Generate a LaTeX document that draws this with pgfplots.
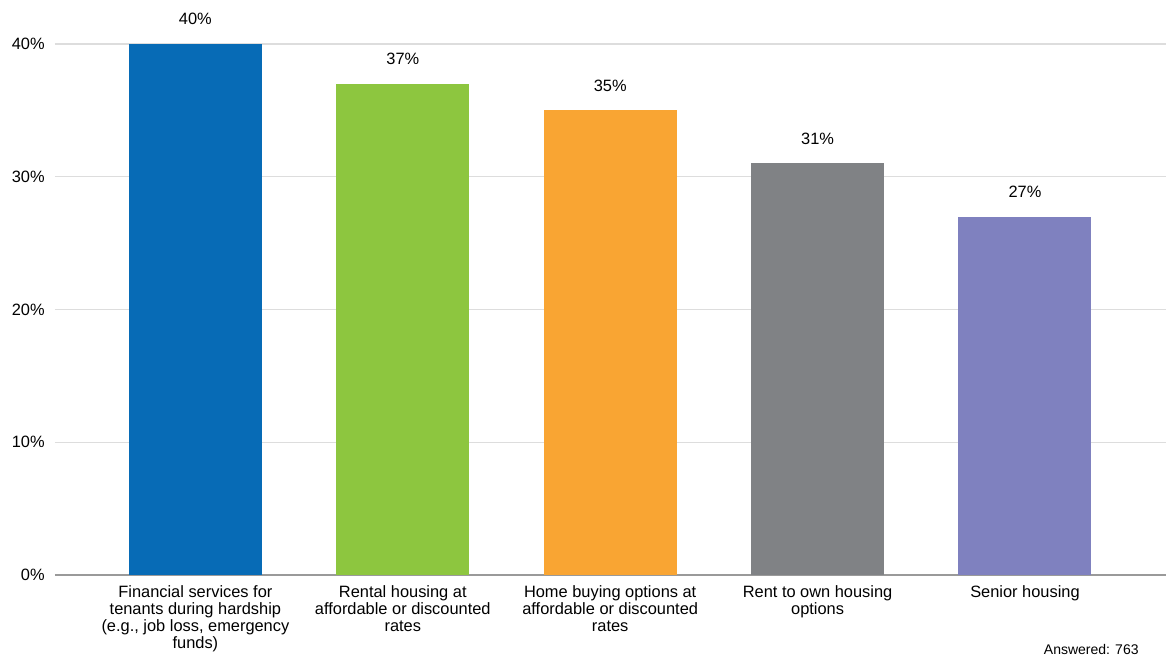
\documentclass[border=0pt]{standalone}
\usepackage{fontspec}
\setmainfont{Liberation Sans}
\usepackage{pgfplots}
\pgfplotsset{compat=1.18}
\definecolor{cblue}{HTML}{076BB6}
\definecolor{cgreen}{HTML}{8DC63F}
\definecolor{corange}{HTML}{F9A533}
\definecolor{cgray}{HTML}{808285}
\definecolor{cpurple}{HTML}{7F81BF}
\definecolor{gridc}{HTML}{DDDDDD}
\definecolor{axisc}{HTML}{9A9A9A}
\newcommand{\lblfont}{\fontsize{8.2}{8.5}\selectfont}
\begin{document}
\begin{tikzpicture}
\useasboundingbox (-27.5pt,-44pt) rectangle (555.5pt,287.5pt);
\begin{axis}[
  at={(0,0)}, anchor=south west,
  scale only axis,
  width=555.5pt, height=265.5pt,
  xmin=-0.677, xmax=4.68,
  ymin=0, ymax=40,
  axis x line*=bottom,
  axis y line*=left,
  y axis line style={draw=none},
  x axis line style={draw=axisc, line width=0.8pt, -},
  /pgf/number format/assume math mode=true,
  ytick={0,10,20,30,40},
  yticklabels={0\%,10\%,20\%,30\%,40\%},
  yticklabel style={font=\lblfont, inner sep=0pt, xshift=-5pt},
  ymajorgrids,
  grid style={draw=gridc, line width=0.6pt},
  xtick={0,1,2,3,4},
  xticklabels={
    {Financial services for\\tenants during hardship\\(e.g., job loss, emergency\\funds)},
    {Rental housing at\\affordable or discounted\\rates},
    {Home buying options at\\affordable or discounted\\rates},
    {Rent to own housing\\options},
    {Senior housing}},
  x tick label style={align=center, font=\lblfont, anchor=north, yshift=-2pt, text depth=0pt},
  major tick length=0pt,
  clip=false,
  every node near coord/.append style={font=\lblfont, yshift=6pt},
  nodes near coords={\pgfmathprintnumber{\pgfplotspointmeta}\%},
]
\addplot[ybar, bar width=66.5pt, fill=cblue, draw=none] coordinates {(0,40)};
\addplot[ybar, bar width=66.5pt, fill=cgreen, draw=none] coordinates {(1,37)};
\addplot[ybar, bar width=66.5pt, fill=corange, draw=none] coordinates {(2,35)};
\addplot[ybar, bar width=66.5pt, fill=cgray, draw=none] coordinates {(3,31)};
\addplot[ybar, bar width=66.5pt, fill=cpurple, draw=none] coordinates {(4,27)};
\end{axis}
\node[anchor=base east, font=\fontsize{7}{8}\selectfont, inner sep=0pt] at (542pt,-40pt) {Answered: 763};
\end{tikzpicture}
\end{document}
